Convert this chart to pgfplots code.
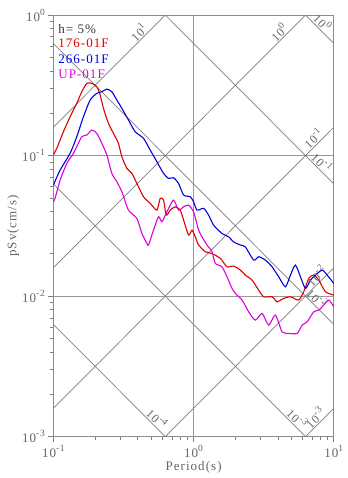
\documentclass[border=0pt]{standalone}
\usepackage{fontspec}
\setmainfont{Liberation Serif}[LetterSpace=8]
\usepackage{pgfplots}
\pgfplotsset{compat=1.18}
\definecolor{rd}{RGB}{222,0,0}
\definecolor{bl}{RGB}{0,0,222}
\definecolor{mg}{RGB}{222,0,222}
\definecolor{txt}{RGB}{100,100,100}
\definecolor{dg}{RGB}{125,125,125}
\newcommand{\pw}[2]{#1\raisebox{0.45em}{\fontsize{9.5bp}{10bp}\selectfont #2}}
\tikzset{dlab/.style={font=\fontsize{12bp}{14bp}\selectfont,text=txt,inner sep=1pt}}

\begin{document}
\begin{tikzpicture}
\begin{loglogaxis}[name=ax,
    scale only axis,width=280bp,height=421bp,
    xmin=0.1,xmax=10,ymin=0.001,ymax=1,
    xtick={0.1,1,10},xticklabels={\pw{10}{-1},\pw{10}{0},\pw{10}{1}},
    ytick={0.001,0.01,0.1,1},yticklabels={\pw{10}{-3},\pw{10}{-2},\pw{10}{-1},\pw{10}{0}},
    xtick pos=bottom,ytick pos=left,tick align=outside,
    major tick length=5bp,minor tick length=3bp,
    every tick/.style={dg,line width=0.6pt},
    every minor tick/.style={dg,line width=0.6pt},
    ticklabel style={font=\fontsize{13bp}{15bp}\selectfont,text=txt},
    xmajorgrids,ymajorgrids,
    major grid style={draw=black!40,line width=1pt},
    axis line style={draw=black!45,line width=0.9pt},
    xlabel={Period(s)},ylabel={pSv(cm/s)},
    label style={font=\fontsize{13bp}{15bp}\selectfont,text=txt},
    xlabel style={yshift=3bp},
    ylabel style={yshift=-4bp},
  ]
  % constant acceleration lines (10, 1, 0.1, 0.01, 0.001)
  \addplot[dg,line width=0.7pt] coordinates {(0.1,0.159155)(0.628319,1)};
  \addplot[dg,line width=0.7pt] coordinates {(0.1,0.0159155)(6.28319,1)};
  \addplot[dg,line width=0.7pt] coordinates {(0.1,0.00159155)(10,0.159155)};
  \addplot[dg,line width=0.7pt] coordinates {(0.628319,0.001)(10,0.0159155)};
  \addplot[dg,line width=0.7pt] coordinates {(6.28319,0.001)(10,0.00159155)};
  % constant displacement lines (1, 0.1, 0.01, 0.001, 0.0001)
  \addplot[dg,line width=0.7pt] coordinates {(6.28319,1)(10,0.628319)};
  \addplot[dg,line width=0.7pt] coordinates {(0.628319,1)(10,0.0628319)};
  \addplot[dg,line width=0.7pt] coordinates {(0.1,0.628319)(10,0.00628319)};
  \addplot[dg,line width=0.7pt] coordinates {(0.1,0.0628319)(6.28319,0.001)};
  \addplot[dg,line width=0.7pt] coordinates {(0.1,0.00628319)(0.628319,0.001)};

  % 176-01F
  \addplot[rd,line width=1.1pt,smooth,tension=0.4] coordinates {
    (0.1,0.101)(0.1057,0.1125)(0.1179,0.1477)(0.1316,0.1889)(0.1469,0.2352)
    (0.1595,0.2844)(0.1732,0.3265)(0.1880,0.3265)(0.2042,0.3088)(0.2157,0.2696)
    (0.2276,0.2168)(0.2471,0.1695)(0.2683,0.1439)(0.2912,0.1221)(0.3080,0.0980)
    (0.3344,0.0811)(0.3631,0.0747)(0.3942,0.0634)(0.4394,0.0509)(0.4906,0.0457)
    (0.5479,0.0409)(0.5782,0.0496)(0.6105,0.0482)(0.6383,0.0377)(0.6817,0.0409)
    (0.7400,0.0432)(0.8035,0.0409)(0.8483,0.0348)(0.9210,0.0272)(0.9741,0.0295)
    (1.028,0.0264)(1.086,0.0231)(1.212,0.0207)(1.353,0.0201)(1.551,0.01855)
    (1.732,0.01616)(1.931,0.01635)(2.156,0.01531)(2.34,0.01411)(2.613,0.0130)
    (2.912,0.01103)(3.162,0.00989)(3.631,0.00989)(3.941,0.00911)(4.394,0.00963)
    (4.906,0.00989)(5.623,0.00937)(6.105,0.01073)(6.628,0.01337)(7.197,0.01411)
    (7.816,0.0130)(8.725,0.01073)(10,0.01016)};
  % 266-01F
  \addplot[bl,line width=1.1pt,smooth,tension=0.4] coordinates {
    (0.1,0.0617)(0.1117,0.0788)(0.1316,0.1037)(0.1469,0.1361)(0.1638,0.1889)
    (0.1829,0.2483)(0.2042,0.2772)(0.2217,0.2844)(0.2407,0.2973)(0.2613,0.2844)
    (0.2837,0.2483)(0.308,0.2168)(0.3433,0.1790)(0.3834,0.1477)(0.4394,0.1326)
    (0.4906,0.1094)(0.5479,0.0903)(0.6105,0.0747)(0.6630,0.0688)(0.7197,0.0695)
    (0.7813,0.0634)(0.8483,0.0524)(0.9472,0.0509)(1.0,0.0469)(1.0575,0.0409)
    (1.179,0.0421)(1.28,0.0377)(1.389,0.0320)(1.595,0.0279)(1.778,0.0264)
    (1.931,0.0243)(2.156,0.0231)(2.34,0.0224)(2.683,0.01804)(2.912,0.01905)
    (3.252,0.01804)(3.631,0.01616)(4.047,0.01372)(4.519,0.01165)(4.906,0.01411)
    (5.326,0.01662)(5.783,0.01372)(6.281,0.01134)(6.818,0.0130)(7.401,0.01411)
    (8.262,0.01531)(8.973,0.01411)(10,0.01231)};
  % UP-01F
  \addplot[mg,line width=1.1pt,smooth,tension=0.4] coordinates {
    (0.1,0.0469)(0.1028,0.0496)(0.1117,0.0669)(0.1247,0.0880)(0.1389,0.1037)
    (0.1595,0.1361)(0.1732,0.1399)(0.188,0.1519)(0.2042,0.1439)(0.2217,0.1221)
    (0.2407,0.1008)(0.2613,0.0747)(0.2837,0.0651)(0.308,0.0553)(0.3433,0.0409)
    (0.3942,0.0357)(0.4279,0.0279)(0.4646,0.0237)(0.4771,0.0231)(0.5179,0.0295)
    (0.5623,0.0367)(0.5946,0.0338)(0.6457,0.0398)(0.7197,0.0482)(0.7813,0.0409)
    (0.8483,0.0432)(0.921,0.0444)(1.0,0.0398)(1.086,0.0295)(1.148,0.0264)
    (1.246,0.0231)(1.353,0.0207)(1.429,0.0171)(1.595,0.01616)(1.732,0.01372)
    (1.881,0.01134)(1.986,0.01045)(2.217,0.00937)(2.471,0.00773)(2.759,0.00675)
    (3.081,0.00753)(3.434,0.00622)(3.833,0.00732)(4.279,0.00557)(4.772,0.00543)
    (5.478,0.00543)(5.947,0.00622)(6.457,0.00656)(7.197,0.00773)(7.816,0.00795)
    (8.483,0.00863)(9.211,0.00937)(10,0.00839)};

  % labels of the diagonal lines
  \node[dlab,rotate=45,anchor=south west] at (axis cs:0.3898,0.6204) {\pw{10}{1}};
  \node[dlab,rotate=45,anchor=south west] at (axis cs:3.896,0.620) {\pw{10}{0}};
  \node[dlab,rotate=45,anchor=south west] at (axis cs:6.706,0.1067) {\pw{10}{-1}};
  \node[dlab,rotate=45,anchor=south west] at (axis cs:7.046,0.01121) {\pw{10}{-2}};
  \node[dlab,rotate=45,anchor=south west] at (axis cs:6.9,0.0011) {\pw{10}{-3}};
  \node[dlab,rotate=-45,anchor=south west] at (axis cs:6.82,0.921) {\pw{10}{0}};
  \node[dlab,rotate=-45,anchor=south west] at (axis cs:6.6,0.0952) {\pw{10}{-1}};
  \node[dlab,rotate=-45,anchor=south west] at (axis cs:6.1,0.0103) {\pw{10}{-2}};
  \node[dlab,rotate=-45,anchor=south west] at (axis cs:4.4,0.001428) {\pw{10}{-3}};
  \node[dlab,rotate=-45,anchor=south west] at (axis cs:0.44,0.001428) {\pw{10}{-4}};

  % legend text
  \begin{scope}[every node/.style={font=\fontsize{13bp}{15bp}\selectfont,anchor=base west,inner sep=0pt}]
  \node[text=black!80] at (rel axis cs:0.017,0.957) {h= 5\%};
  \node[text=rd] at (rel axis cs:0.017,0.922) {176-01F};
  \node[text=bl] at (rel axis cs:0.017,0.884) {266-01F};
  \node[text=mg] at (rel axis cs:0.017,0.850) {UP-01F};
  \end{scope}
  \node[font=\fontsize{13bp}{15bp}\selectfont,text=black!75,anchor=base west,inner sep=0pt]
    at ([yshift=5bp]rel axis cs:0,1) {2025/11/02 07:30 at SHC};
\end{loglogaxis}
\path[use as bounding box] ([xshift=-53.3bp,yshift=-41.3bp]ax.south west)
  rectangle ([xshift=13.7bp,yshift=15bp]ax.north east);
\end{tikzpicture}
\end{document}
